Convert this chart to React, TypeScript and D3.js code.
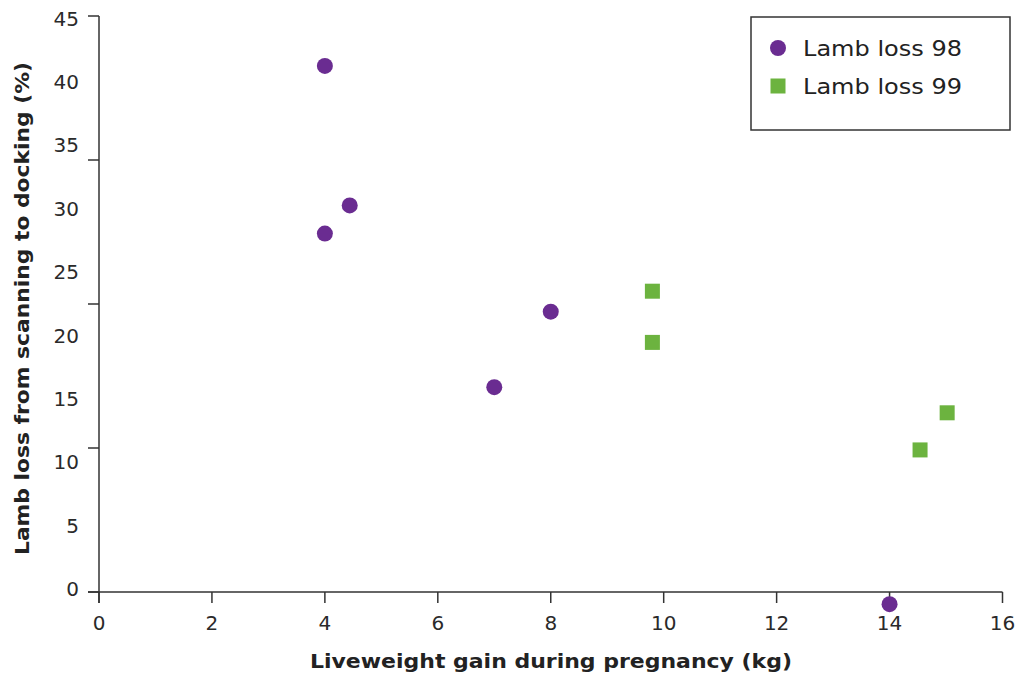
import React from "react";
import * as d3 from "d3";

const series98X = [4.0, 4.0, 4.44, 8.0, 7.0, 14.0];
const series98Y = [41.1, 28.0, 30.2, 21.9, 16.0, -0.95];
const series99X = [9.8, 9.8, 15.02, 14.54];
const series99Y = [23.5, 19.5, 14.0, 11.1];
const xTicks = [0, 2, 4, 6, 8, 10, 12, 14, 16];
const yTickMarks = [0, 11.25, 22.5, 33.75, 45];
const yTickLabels = [0, 5, 10, 15, 20, 25, 30, 35, 40, 45];
const legendLabels = ["Lamb loss 98", "Lamb loss 99"];

const W = 1018, H = 674;
const PURPLE = "#6a2c91";
const GREEN = "#6cb33f";
const AXIS = "#333333";
const FONT = "'DejaVu Sans', 'Noto Sans', sans-serif";

export default function App() {
  const x = d3.scaleLinear().domain([0, 16]).range([99, 1002.5]);
  const y = d3.scaleLinear().domain([0, 45]).range([592, 16]);
  const yLab = d3.scaleLinear().domain([0, 45]).range([589, 18.5]);

  return (
    <svg width={W} height={H} style={{ position: "absolute", left: 0, top: 0, background: "#fff" }}>
      {/* axes */}
      <line x1={99} x2={99} y1={y(45)} y2={603} stroke={AXIS} strokeWidth={1.5} />
      <line x1={88} x2={x(16)} y1={y(0)} y2={y(0)} stroke={AXIS} strokeWidth={1.5} />
      {yTickMarks.map((t) => (
        <line key={"yt" + t} x1={88} x2={99} y1={y(t)} y2={y(t)} stroke={AXIS} strokeWidth={1.5} />
      ))}
      {xTicks.map((t) => (
        <line key={"xt" + t} x1={x(t)} x2={x(t)} y1={y(0)} y2={603} stroke={AXIS} strokeWidth={1.5} />
      ))}
      {yTickLabels.map((t) => (
        <text key={"yl" + t} x={79} y={yLab(t)} dy="0.36em" textAnchor="end" fontFamily={FONT} fontSize={20} fill="#2a2a2a">
          {t}
        </text>
      ))}
      {xTicks.map((t) => (
        <text key={"xl" + t} x={x(t)} y={623} dy="0.36em" textAnchor="middle" fontFamily={FONT} fontSize={20} fill="#2a2a2a">
          {t}
        </text>
      ))}
      <text
        x={551}
        y={668}
        textAnchor="middle"
        fontFamily={FONT}
        fontWeight="bold"
        fontSize={20}
        fill="#222"
        textLength={482}
        lengthAdjust="spacingAndGlyphs"
      >
        Liveweight gain during pregnancy (kg)
      </text>
      <text
        transform={`translate(29,308.5) rotate(-90)`}
        textAnchor="middle"
        fontFamily={FONT}
        fontWeight="bold"
        fontSize={20}
        fill="#222"
        textLength={493}
        lengthAdjust="spacingAndGlyphs"
      >
        Lamb loss from scanning to docking (%)
      </text>

      {/* data */}
      {series98X.map((v, i) => (
        <circle key={"a" + i} cx={x(v)} cy={y(series98Y[i])} r={8} fill={PURPLE} />
      ))}
      {series99X.map((v, i) => (
        <rect key={"b" + i} x={x(v) - 7.5} y={y(series99Y[i]) - 7.5} width={15} height={15} fill={GREEN} />
      ))}

      {/* legend */}
      <rect x={751} y={17} width={259} height={113} fill="#fff" stroke={AXIS} strokeWidth={1.5} />
      <circle cx={778} cy={48} r={8} fill={PURPLE} />
      <rect x={770.5} y={78.5} width={15} height={15} fill={GREEN} />
      {legendLabels.map((l, i) => (
        <text
          key={l}
          x={803}
          y={48 + i * 38}
          dy="0.36em"
          fontFamily={FONT}
          fontSize={21}
          fill="#222"
          textLength={159}
          lengthAdjust="spacingAndGlyphs"
        >
          {l}
        </text>
      ))}
    </svg>
  );
}
